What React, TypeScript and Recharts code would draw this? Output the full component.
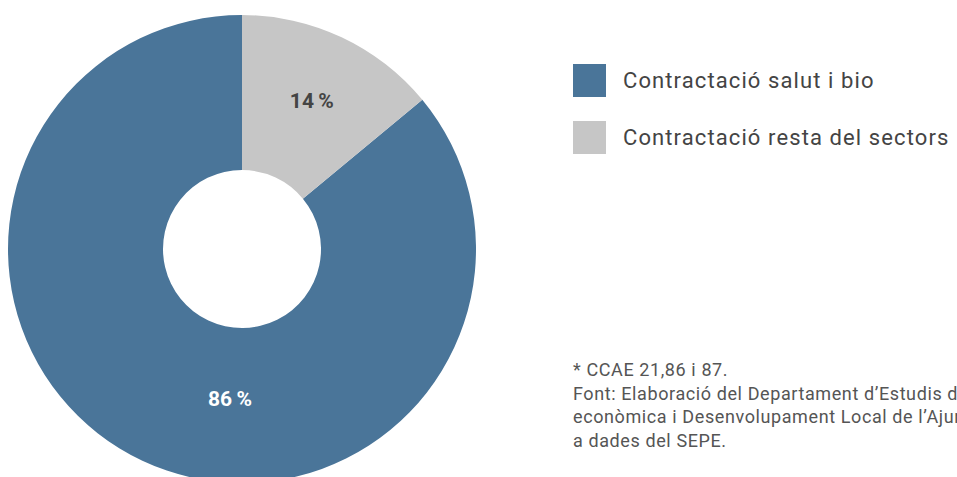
import React from 'react';
import { PieChart, Pie, Cell } from 'recharts';

const categories = ['Contractació salut i bio', 'Contractació resta del sectors'];
const shares = [86, 14];
const colors = ['#4a7599', '#c6c6c6'];
const labelColors = ['#ffffff', '#444444'];

const notes = [
  '* CCAE 21,86 i 87.',
  'Font: Elaboració del Departament d\u2019Estudis de Promoció',
  'econòmica i Desenvolupament Local de l\u2019Ajuntament a partir',
  'a dades del SEPE.',
];

const data = categories.map((name, i) => ({ name, value: shares[i] }));

const total = shares.reduce((a, b) => a + b, 0);
// grey slice starts at 12 o'clock and runs clockwise
const startAngle = 90 - (360 * shares[1]) / total;

const RADIAN = Math.PI / 180;

const renderLabel = (props: any) => {
  const { cx, cy, midAngle, index, value } = props;
  // the big slice label sits low in the ring, not on its mid angle
  const angle = index === 0 ? -94.6 : midAngle;
  const r = index === 0 ? 150 : 164;
  const x = cx + r * Math.cos(-angle * RADIAN);
  const y = cy + r * Math.sin(-angle * RADIAN);
  return (
    <text
      x={x}
      y={y}
      fill={labelColors[index]}
      textAnchor="middle"
      dominantBaseline="central"
      fontSize={21}
      fontWeight={700}
      fontFamily="Roboto, sans-serif"
    >
      {`${value}\u2009%`}
    </text>
  );
};

const App: React.FC = () => {
  return (
    <div style={{ position: 'fixed', left: 0, top: 0, width: 957, height: 477, overflow: 'hidden', background: '#fff' }}>
      <PieChart width={957} height={477} margin={{ top: 0, right: 0, bottom: 0, left: 0 }}>
        <Pie
          data={data}
          dataKey="value"
          nameKey="name"
          cx={242}
          cy={249}
          innerRadius={79}
          outerRadius={234}
          startAngle={startAngle}
          endAngle={startAngle - 360}
          stroke="none"
          label={renderLabel}
          labelLine={false}
          isAnimationActive={false}
        >
          {data.map((d, i) => (
            <Cell key={d.name} fill={colors[i]} />
          ))}
        </Pie>
      </PieChart>
      <div style={{ position: 'absolute', left: 573, top: 64, fontFamily: 'Roboto, sans-serif' }}>
        {categories.map((c, i) => (
          <div key={c} style={{ display: 'flex', alignItems: 'center', height: 33, marginBottom: 24 }}>
            <div style={{ width: 33, height: 33, background: colors[i], marginRight: 17 }} />
            <span style={{ fontSize: 22, letterSpacing: 1.1, color: '#444', whiteSpace: 'nowrap' }}>{c}</span>
          </div>
        ))}
      </div>
      <div
        style={{
          position: 'absolute',
          left: 573,
          top: 358,
          fontFamily: 'Roboto, sans-serif',
          fontSize: 18,
          letterSpacing: 0.6,
          lineHeight: '23.7px',
          color: '#555',
          whiteSpace: 'nowrap',
        }}
      >
        {notes.map((n) => (
          <div key={n}>{n}</div>
        ))}
      </div>
    </div>
  );
};

export default App;
